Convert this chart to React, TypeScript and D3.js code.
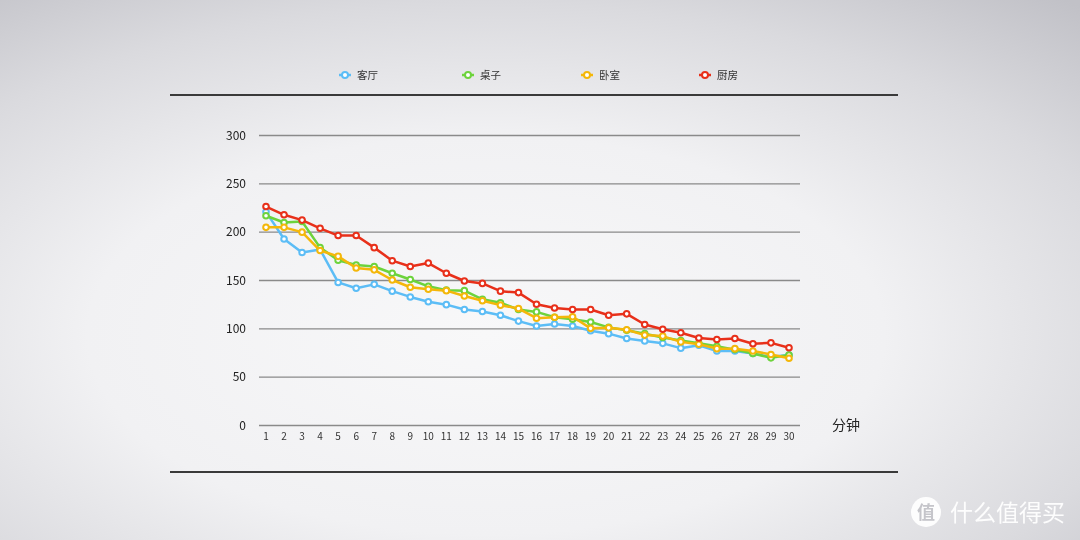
import React from 'react';
import * as d3 from 'd3';

const minutes = d3.range(1, 31);
const livingRoom = [221, 193, 179, 182, 148, 142, 146, 139, 133, 128, 125, 120, 118, 114, 108, 103, 105, 103, 98, 95, 90, 87.5, 85, 80, 83, 77, 77, 74.5, 71, 73];
const desk = [217, 210, 211, 184, 171, 166, 164.5, 157.5, 151, 144, 140, 139.5, 130.5, 127, 120, 117.5, 112, 110, 107, 101.5, 98.5, 95, 91, 88, 85, 82, 78.5, 74.5, 70, 73];
const bedroom = [205, 205, 200, 181, 175, 163, 161, 150.5, 143, 141, 139.5, 134, 129, 124.5, 121, 111, 112, 112.5, 100.5, 101, 99, 93.5, 92.5, 86.5, 84, 79.5, 79.5, 77, 73.5, 69.5];
const kitchen = [226.5, 218, 212.5, 204, 196.5, 196.5, 184, 170.5, 164.5, 168, 157.5, 149.5, 147, 139, 137.5, 125.5, 121.5, 120, 120, 114, 115.5, 104.5, 99.5, 96, 90.5, 89, 90, 84.5, 85.5, 80.5];
const seriesNames = ['客厅', '桌子', '卧室', '厨房'];
const seriesColors = ['#5cbdf6', '#6dd33c', '#f4b70a', '#e8301a'];
const yTicks = [0, 50, 100, 150, 200, 250, 300];
const xUnit = '分钟';

const W = 1080, H = 540;

export default function App() {
  const x = d3.scaleLinear().domain([1, 30]).range([266, 789]);
  const y = d3.scaleLinear().domain([0, 300]).range([425.5, 135.5]);
  const all = [livingRoom, desk, bedroom, kitchen];
  const line = d3.line<number>().x((_, i) => x(minutes[i])).y(d => y(d));
  const legendX = [345, 468, 587, 705];
  const font = '"Noto Sans CJK SC", "Noto Sans", sans-serif';
  return (
    <svg width={W} height={H} style={{ position: 'fixed', left: 0, top: 0 }} fontFamily={font}>
      <defs>
        <radialGradient id="bg" cx="45%" cy="62%" r="82%" fx="45%" fy="62%">
          <stop offset="0" stopColor="#f8f8f9" />
          <stop offset="0.45" stopColor="#f1f1f3" />
          <stop offset="0.75" stopColor="#dadade" />
          <stop offset="1" stopColor="#c1c1c7" />
        </radialGradient>
      </defs>
      <rect width={W} height={H} fill="url(#bg)" />
      <line x1={170} x2={898} y1={95} y2={95} stroke="#3a3a3a" strokeWidth={2} />
      <line x1={170} x2={898} y1={472} y2={472} stroke="#3a3a3a" strokeWidth={2} />
      {seriesNames.map((n, i) => (
        <g key={n} transform={`translate(${legendX[i]},75)`}>
          <line x1={-6} x2={6} y1={0} y2={0} stroke={seriesColors[i]} strokeWidth={2.5} />
          <circle r={3} fill="#fff" stroke={seriesColors[i]} strokeWidth={2} />
          <text x={12} y={4} fontSize={10.5} fill="#333">{n}</text>
        </g>
      ))}
      {yTicks.map(t => (
        <g key={t}>
          <line x1={259} x2={800} y1={y(t)} y2={y(t)} stroke="#8a8a8a" strokeWidth={1.3} />
          <text x={246} y={y(t) + 4} fontSize={12} fill="#222" textAnchor="end">{t}</text>
        </g>
      ))}
      {minutes.map(m => (
        <text key={m} x={x(m)} y={440} fontSize={10} fill="#333" textAnchor="middle">{m}</text>
      ))}
      <text x={832} y={430} fontSize={14} fill="#222">{xUnit}</text>
      {all.map((s, i) => (
        <g key={i}>
          <path d={line(s) || ''} fill="none" stroke={seriesColors[i]} strokeWidth={2.5} strokeLinejoin="round" />
          {s.map((v, j) => (
            <circle key={j} cx={x(minutes[j])} cy={y(v)} r={2.8} fill="#fff" stroke={seriesColors[i]} strokeWidth={2} />
          ))}
        </g>
      ))}
      <g opacity={0.95}>
        <circle cx={926} cy={512} r={15} fill="#fff" />
        <text x={926} y={519} fontSize={18} fill="#c4c4c9" textAnchor="middle" fontWeight="bold">值</text>
        <text x={950} y={521} fontSize={23} fill="#fff">什么值得买</text>
      </g>
    </svg>
  );
}
